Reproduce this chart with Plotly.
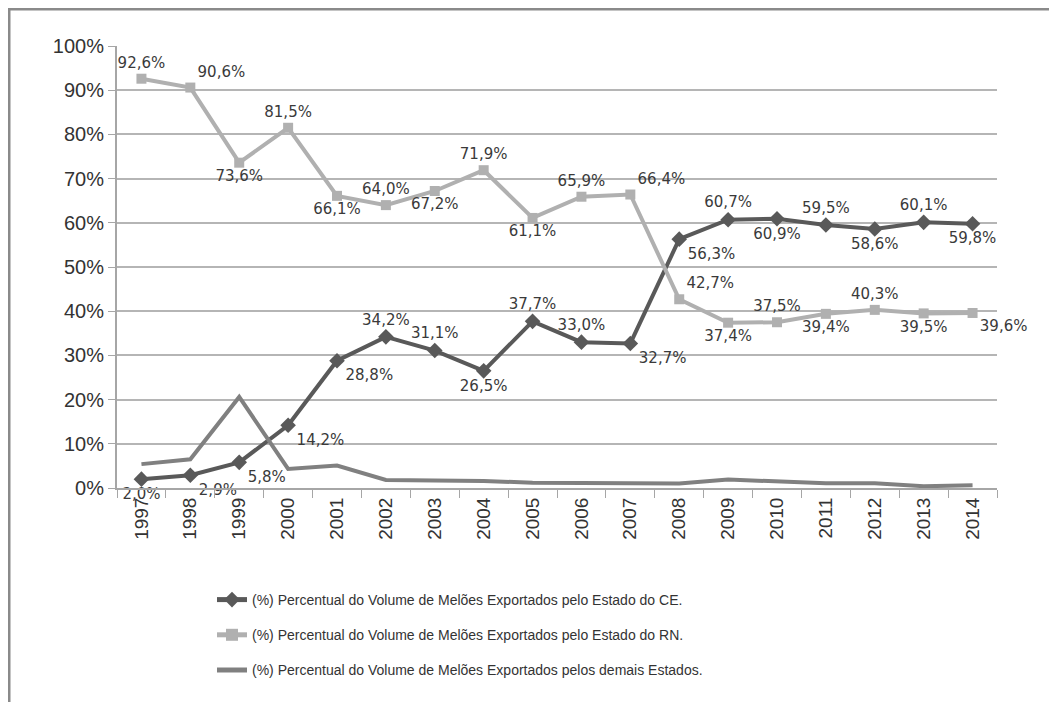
import plotly.graph_objects as go

# %% data
anos = [str(a) for a in range(1997, 2015)]
ce = [2.0, 2.9, 5.8, 14.2, 28.8, 34.2, 31.1, 26.5, 37.7, 33.0, 32.7, 56.3, 60.7, 60.9, 59.5, 58.6, 60.1, 59.8]
rn = [92.6, 90.6, 73.6, 81.5, 66.1, 64.0, 67.2, 71.9, 61.1, 65.9, 66.4, 42.7, 37.4, 37.5, 39.4, 40.3, 39.5, 39.6]
demais = [5.4, 6.5, 20.6, 4.3, 5.1, 1.8, 1.7, 1.6, 1.2, 1.1, 0.9, 1.0, 1.9, 1.6, 1.1, 1.1, 0.4, 0.6]

nome_ce = "(%) Percentual do Volume de Melões Exportados pelo Estado do CE."
nome_rn = "(%) Percentual do Volume de Melões Exportados pelo Estado do RN."
nome_demais = "(%) Percentual do Volume de Melões Exportados pelos demais Estados."

# label placement (styling, not data)
pos_ce = ["bottom center", "bottom right", "bottom right", "bottom right", "bottom right",
          "top center", "top center", "bottom center", "top center", "top center",
          "bottom right", "bottom right", "top center", "bottom center", "top center",
          "bottom center", "top center", "bottom center"]
pos_rn = ["top center", "top right", "bottom center", "top center", "bottom center",
          "top center", "bottom center", "top center", "bottom center", "top center",
          "top right", "top right", "bottom center", "top center", "bottom center",
          "top center", "bottom center", "bottom right"]


def rotulo(v):
    return f"{v:.1f}%".replace(".", ",")


# %% figure
# page body adds an 8px margin, so positions below are measured on the screenshot minus 8
OFF = 8
W, H = 1057 - OFF, 702 - OFF
L, R, T, B = 117 - OFF, 997 - OFF, 46 - OFF, 488 - OFF


def px_x(p):
    return (p - OFF - L) / (R - L)


def px_y(p):
    return (B - (p - OFF)) / (B - T)


fig = go.Figure()

fig.add_trace(go.Scatter(
    x=anos, y=ce, name=nome_ce, legendgroup="ce",
    mode="lines+markers+text",
    line=dict(color="#595959", width=4),
    marker=dict(symbol="diamond", size=12, color="#595959"),
    text=[rotulo(v) for v in ce], textposition=pos_ce,
    textfont=dict(family="DejaVu Sans", size=15, color="#3a3a3a"),
    cliponaxis=False,
))

fig.add_trace(go.Scatter(
    x=anos, y=rn, name=nome_rn, legendgroup="rn",
    mode="lines+markers+text",
    line=dict(color="#b0b0b0", width=4),
    marker=dict(symbol="square", size=10, color="#b0b0b0"),
    text=[rotulo(v) for v in rn], textposition=pos_rn,
    textfont=dict(family="DejaVu Sans", size=15, color="#3a3a3a"),
    cliponaxis=False,
))

fig.add_trace(go.Scatter(
    x=anos, y=demais, name=nome_demais, legendgroup="demais",
    mode="lines",
    line=dict(color="#808080", width=4),
    cliponaxis=False,
))

# outer frame (top and left visible in reference)
fig.add_shape(type="rect", xref="paper", yref="paper",
              x0=px_x(9), x1=px_x(1100), y0=px_y(9), y1=px_y(760),
              line=dict(color="#8a8a8a", width=3), layer="below")

fig.update_layout(
    width=W, height=H,
    margin=dict(l=L, r=W - R, t=T, b=H - B),
    paper_bgcolor="white", plot_bgcolor="white",
    showlegend=True,
    legend=dict(
        x=px_x(212), y=px_y(584), xanchor="left", yanchor="top",
        font=dict(family="Liberation Sans", size=14, color="#333333"),
        tracegroupgap=14, itemsizing="constant",
        bgcolor="rgba(0,0,0,0)",
    ),
    xaxis=dict(
        type="category", range=[-0.5, 17.5],
        showline=True, linecolor="#a6a6a6", linewidth=2,
        ticks="outside", tickson="boundaries", ticklen=8, tickcolor="#a6a6a6",
        tickangle=-90, showgrid=False,
        tickfont=dict(family="Liberation Sans", size=19, color="#333333"),
    ),
    yaxis=dict(
        range=[0, 100], dtick=10, ticksuffix="%",
        showline=True, linecolor="#a6a6a6", linewidth=2,
        ticks="outside", ticklen=7, tickcolor="#a6a6a6",
        gridcolor="#b5b5b5", gridwidth=2, zeroline=False,
        tickfont=dict(family="Liberation Sans", size=20, color="#333333"),
    ),
)

fig.write_html("out.html")
